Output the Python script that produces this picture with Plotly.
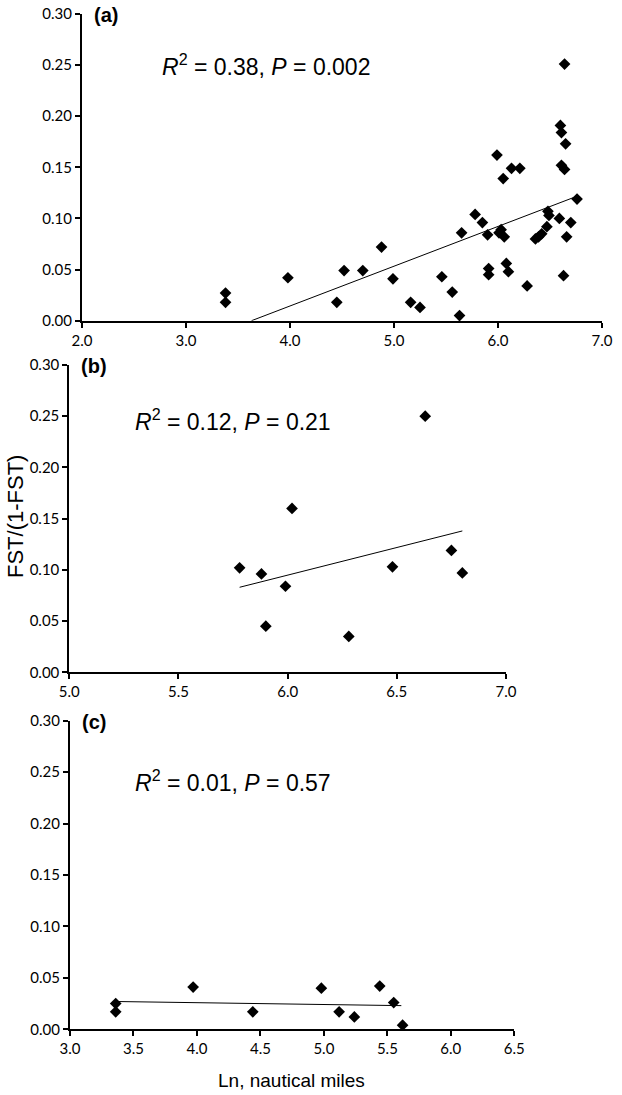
import plotly.graph_objects as go

# Panel (a)
a_x = [3.38, 3.38, 3.98, 4.45, 4.52, 4.70, 4.88, 4.99, 5.16, 5.25, 5.46, 5.56, 5.63, 5.65,
       5.78, 5.85, 5.90, 5.91, 5.91, 5.99, 6.01, 6.03, 6.06, 6.05, 6.08, 6.10, 6.13, 6.21,
       6.28, 6.36, 6.39, 6.42, 6.47, 6.48, 6.49, 6.59, 6.60, 6.61, 6.61, 6.64, 6.63, 6.64,
       6.65, 6.66, 6.70, 6.76]
a_y = [0.027, 0.018, 0.042, 0.018, 0.049, 0.049, 0.072, 0.041, 0.018, 0.013, 0.043, 0.028,
       0.005, 0.086, 0.104, 0.096, 0.084, 0.051, 0.045, 0.162, 0.086, 0.089, 0.082, 0.139,
       0.056, 0.048, 0.149, 0.149, 0.034, 0.080, 0.082, 0.085, 0.092, 0.107, 0.103, 0.100,
       0.191, 0.184, 0.152, 0.148, 0.044, 0.251, 0.173, 0.082, 0.096, 0.119]
a_line_x = [3.63, 6.74]
a_line_y = [0.0, 0.121]

# Panel (b)
b_x = [5.78, 5.88, 5.90, 5.99, 6.02, 6.28, 6.48, 6.63, 6.75, 6.80]
b_y = [0.102, 0.096, 0.045, 0.084, 0.160, 0.035, 0.103, 0.250, 0.119, 0.097]
b_line_x = [5.78, 6.80]
b_line_y = [0.083, 0.138]

# Panel (c)
c_x = [3.36, 3.36, 3.97, 4.44, 4.98, 5.12, 5.24, 5.44, 5.55, 5.62]
c_y = [0.025, 0.017, 0.041, 0.017, 0.040, 0.017, 0.012, 0.042, 0.026, 0.004]
c_line_x = [3.37, 5.61]
c_line_y = [0.027, 0.023]

y_ticks = [0.0, 0.05, 0.10, 0.15, 0.20, 0.25, 0.30]
a_xticks = [2.0, 3.0, 4.0, 5.0, 6.0, 7.0]
b_xticks = [5.0, 5.5, 6.0, 6.5, 7.0]
c_xticks = [3.0, 3.5, 4.0, 4.5, 5.0, 5.5, 6.0, 6.5]

labels = ["(a)", "(b)", "(c)"]
stats = ["<i>R</i><sup>2</sup> = 0.38, <i>P</i> = 0.002",
         "<i>R</i><sup>2</sup> = 0.12, <i>P</i> = 0.21",
         "<i>R</i><sup>2</sup> = 0.01, <i>P</i> = 0.57"]

W, H = 622, 1095


def fx(px):
    return px / W


def fy(py):
    return 1 - py / H


# pixel boxes in window coords (left, right, top, bottom)
boxes = [(82, 602, 14, 320.7), (69.3, 506, 365, 672.3), (70, 514.3, 720.7, 1029.3)]

fig = go.Figure()
panels = [(a_x, a_y, a_line_x, a_line_y, a_xticks),
          (b_x, b_y, b_line_x, b_line_y, b_xticks),
          (c_x, c_y, c_line_x, c_line_y, c_xticks)]

tickfont = dict(family="Lato, Open Sans, sans-serif", size=15, color="black")

for i, (px, py, lx, ly, xt) in enumerate(panels):
    n = "" if i == 0 else str(i + 1)
    xa, ya = "x" + n, "y" + n
    fig.add_trace(go.Scatter(x=lx, y=ly, mode="lines", line=dict(color="black", width=1),
                             xaxis=xa, yaxis=ya, showlegend=False, hoverinfo="skip",
                             cliponaxis=False))
    fig.add_trace(go.Scatter(x=px, y=py, mode="markers",
                             marker=dict(symbol="diamond", size=9, color="black"),
                             xaxis=xa, yaxis=ya, showlegend=False, cliponaxis=False))
    l, r, t, b = boxes[i]
    xkey = "xaxis" + n
    ykey = "yaxis" + n
    fig.layout[xkey] = dict(domain=[fx(l), fx(r)], anchor=ya, range=[xt[0], xt[-1]],
                            tickvals=xt, ticktext=[f"{v:.1f}" for v in xt],
                            showline=True, linecolor="black", linewidth=2,
                            ticks="outside", ticklen=5, tickwidth=2, tickcolor="black",
                            showgrid=False, zeroline=False, tickfont=tickfont,
                            automargin=False, ticklabeloverflow="allow")
    fig.layout[ykey] = dict(domain=[fy(b), fy(t)], anchor=xa, range=[0, 0.30],
                            tickvals=y_ticks, ticktext=[f"{v:.2f}" for v in y_ticks],
                            showline=True, linecolor="black", linewidth=2,
                            ticks="outside", ticklen=5, tickwidth=2, tickcolor="black",
                            showgrid=False, zeroline=False, tickfont=tickfont,
                            automargin=False, ticklabeloverflow="allow")
    fig.add_annotation(x=fx(l + 10), y=fy(t + 1), xref="paper", yref="paper",
                       text="<b>" + labels[i] + "</b>", showarrow=False,
                       xanchor="left", yanchor="middle",
                       font=dict(family="Liberation Sans, Arial", size=20, color="black"))
    sx = [160, 133, 133][i]
    sy = [65, 420, 781][i]
    fig.add_annotation(x=fx(sx), y=fy(sy), xref="paper", yref="paper",
                       text=stats[i], showarrow=False, xanchor="left", yanchor="middle",
                       font=dict(family="Liberation Sans, Arial", size=23, color="black"))

fig.add_annotation(x=fx(15), y=fy(517), xref="paper", yref="paper",
                   text="FST/(1-FST)", showarrow=False, textangle=-90,
                   xanchor="center", yanchor="middle",
                   font=dict(family="Liberation Sans, Arial", size=22, color="black"))
fig.add_annotation(x=fx(291), y=fy(1080), xref="paper", yref="paper",
                   text="Ln, nautical miles", showarrow=False,
                   xanchor="center", yanchor="middle",
                   font=dict(family="Liberation Sans, Arial", size=19, color="black"))

fig.update_layout(width=W, height=H, margin=dict(l=0, r=0, t=0, b=0),
                  paper_bgcolor="white", plot_bgcolor="white")

fig.write_html("out.html", config={"displayModeBar": False},
               post_script="document.documentElement.style.margin='0';"
                           "document.body.style.margin='0';"
                           "document.body.style.overflow='hidden';")
